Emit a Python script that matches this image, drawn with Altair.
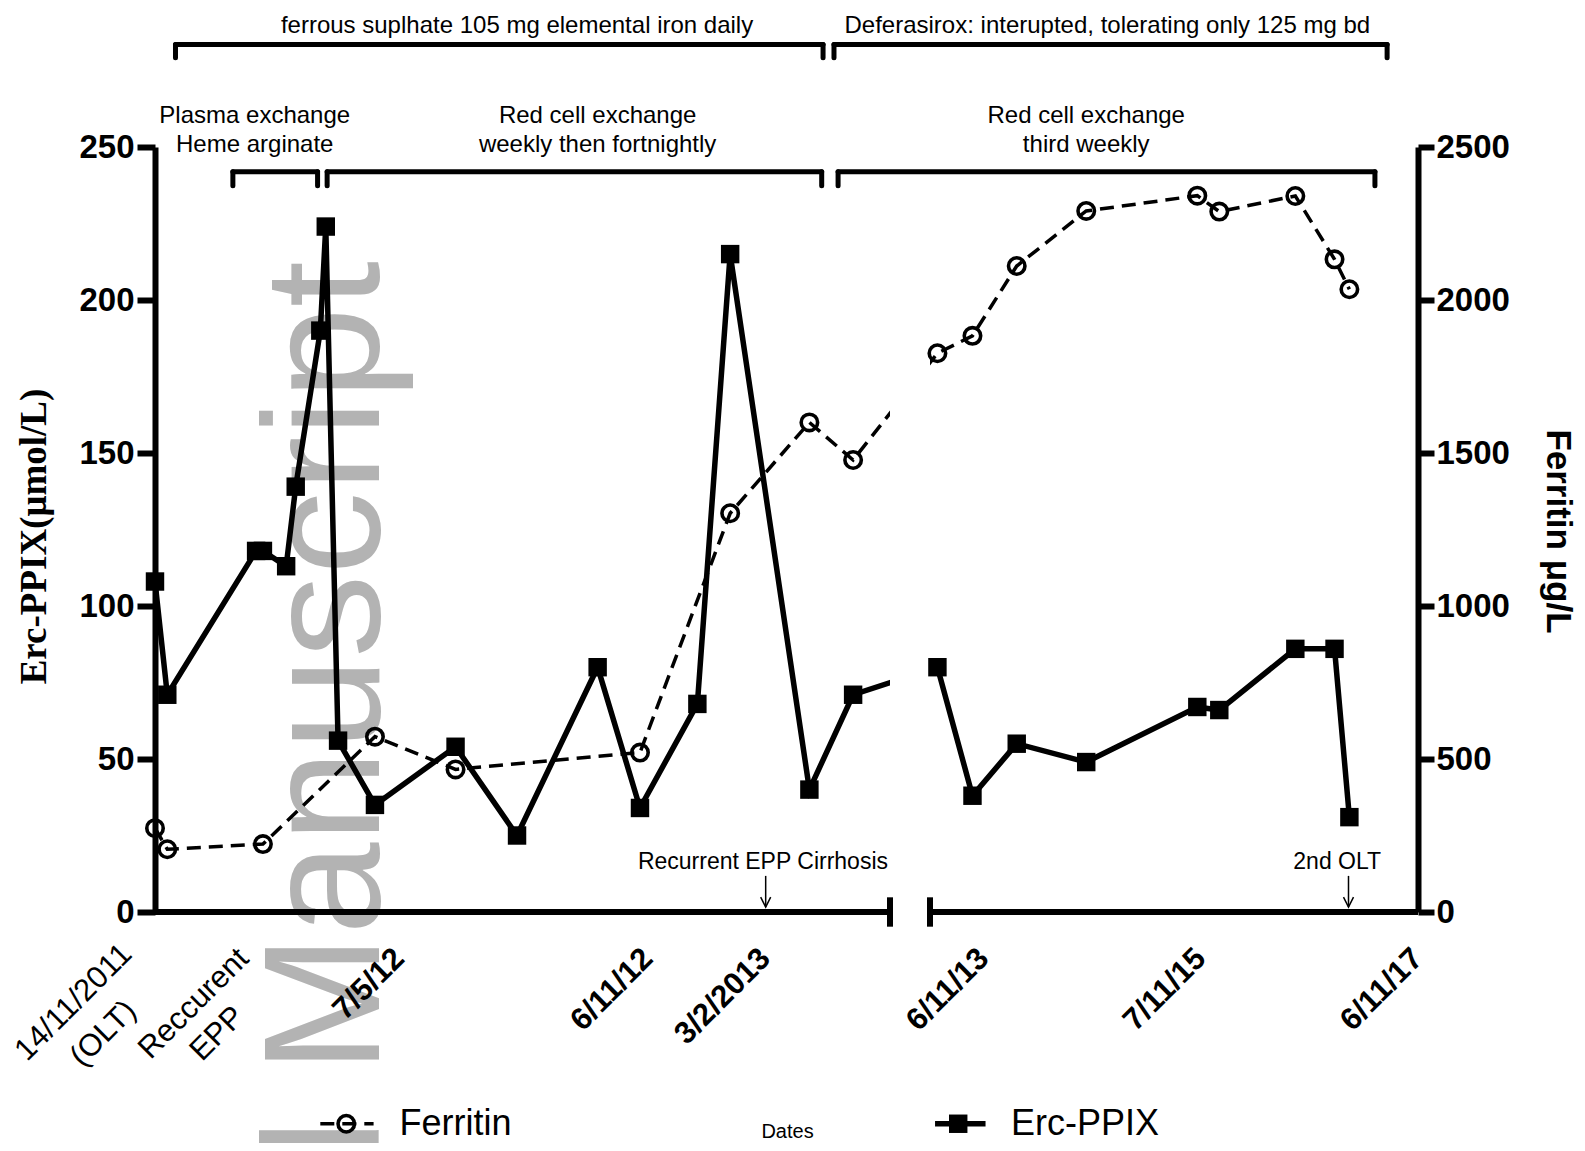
import altair as alt
import pandas as pd

# ===================== data =====================
# x values: days after the first liver transplant (OLT, 14/11/2011)
erc_day = [0, 9, 74, 79, 96, 103, 121, 125, 134, 161, 220, 265, 324, 355, 397, 421, 479, 511,
           566, 684, 833, 1067, 1441, 1515, 1771, 1903, 1953]
erc_val = [108, 71, 118, 118, 113, 139, 190, 224, 56, 35, 54, 25, 80, 34, 68, 215, 40, 71,
           80, 38, 55, 49, 67, 66, 86, 86, 31]
fer_day = [0, 9, 79, 161, 220, 355, 421, 479, 511, 566, 684, 833, 1067, 1441, 1515, 1771, 1903, 1953]
fer_val = [274, 205, 222, 573, 466, 521, 1303, 1600, 1477, 1826, 1883, 2111, 2291, 2341, 2289,
           2340, 2133, 2035]

tick_day = [0, 79, 179, 361, 447, 723, 1454, 2184]
date_tick_day = [179, 361, 447, 723, 1454, 2184]
date_tick_text = ["7/5/12", "6/11/12", "3/2/2013", "6/11/13", "7/11/15", "6/11/17"]
olt_tick_day, olt_tick_lines = 0, ["14/11/2011", "(OLT)"]
epp_tick_day, epp_tick_lines = 79, ["Reccurent", "EPP"]

erc_ticks = [0, 50, 100, 150, 200, 250]
fer_ticks = [0, 500, 1000, 1500, 2000, 2500]

# segmented time axis (days): first segment ends, second segment starts, last day
seg1_end, seg2_start, last_day = 538, 541, 2184

drug_start = [15, 497]
drug_end = [489, 2080]
drug_mid = [265, 1138]
drug_text = ["ferrous suplhate 105 mg elemental iron daily",
             "Deferasirox: interupted, tolerating only 125 mg bd"]
proc_start = [57, 126, 500]
proc_end = [119, 488, 2039]
proc_mid = [73, 324, 1067]
proc_line1 = ["Plasma exchange", "Red cell exchange", "Red cell exchange"]
proc_line2 = ["Heme arginate", "weekly then fortnightly", "third weekly"]

event_day = [447, 1950]
event_text_day = [445, 1912]
event_text = ["Recurrent EPP Cirrhosis", "2nd OLT"]

# ===================== layout =====================
SANS = "Liberation Sans, Arial, Helvetica, sans-serif"
SERIF = "Liberation Serif, Times New Roman, Times, serif"
W, H = 1263, 765

# levels in Erc-PPIX units (annotations above / below the plot)
DRUG_LINE, DRUG_FOOT, DRUG_TXT = 283.5, 279.2, 289.4
PROC_LINE, PROC_FOOT, PROC_T1, PROC_T2 = 241.9, 237.3, 260.0, 250.8
EV_TXT, ARROW_TOP, ARROW_TIP = 16.3, 11.8, 1.6
LEG_Y, DATES_Y = -69.2, -71.8

X_SCALE = alt.Scale(domain=[0, seg1_end, seg2_start, last_day], range=[0, 735, 775, W],
                    nice=False, zero=False)
ERC = alt.Scale(domain=[0, 250], nice=False)
FER = alt.Scale(domain=[0, 2500], nice=False)


def XD(field, axis=None):
    return alt.X(field, type="quantitative", scale=X_SCALE, axis=axis)


def YE(field):
    return alt.Y(field, type="quantitative", scale=ERC, axis=None)


def YF(field):
    return alt.Y(field, type="quantitative", scale=FER, axis=None)


erc_df = pd.DataFrame({"day": erc_day, "erc": erc_val})
fer_df = pd.DataFrame({"day": fer_day, "ferritin": fer_val})

x_axis = alt.Axis(values=tick_day, labels=False, domain=False, ticks=True, tickSize=20,
                  tickWidth=6, tickColor="black", grid=False, title=None)

erc_axis = alt.Axis(orient="left", values=erc_ticks, grid=False, domainColor="black",
                    domainWidth=6, tickColor="black", tickWidth=6, tickSize=18,
                    labelFont=SANS, labelFontSize=33, labelFontWeight="bold",
                    labelColor="black", labelPadding=3, labelFlush=False, format="d",
                    title="Erc-PPIX(\u03bcmol/L)", titleFont=SERIF, titleFontSize=37,
                    titleFontWeight="bold", titleColor="black", titleAngle=270,
                    titleX=-121, titleY=389, titleAlign="center", titleBaseline="middle")

fer_axis = alt.Axis(orient="right", values=fer_ticks, grid=False, domainColor="black",
                    domainWidth=6, tickColor="black", tickWidth=6, tickSize=16,
                    labelFont=SANS, labelFontSize=33, labelFontWeight="bold",
                    labelColor="black", labelPadding=2, labelFlush=False, format="d",
                    title="Ferritin \u03bcg/L", titleFont=SANS, titleFontSize=35,
                    titleFontWeight="bold", titleColor="black", titleAngle=90,
                    titleX=139, titleY=384, titleAlign="center", titleBaseline="middle")

# ---- watermark ----
watermark = alt.Chart(pd.DataFrame({"day": [164], "v": [212.7], "t": ["Accepted Manuscript"]})
                      ).mark_text(font=SANS, fontSize=166, color="#b3b3b3", angle=270,
                                  align="right", baseline="alphabetic"
                                  ).encode(x=XD("day"), y=YE("v"), text="t:N")

# ---- ferritin line ----
fer_line = alt.Chart(fer_df).mark_line(color="black", strokeWidth=3.5, strokeDash=[14, 8]
                                       ).encode(x=XD("day"),
                                                y=alt.Y("ferritin", type="quantitative",
                                                        scale=FER, axis=fer_axis))

# ---- erc line + gap mask ----
erc_line = alt.Chart(erc_df).mark_line(color="black", strokeWidth=5.5).encode(
    x=XD("day", x_axis), y=alt.Y("erc", type="quantitative", scale=ERC, axis=erc_axis))
gap = alt.Chart(pd.DataFrame({"a": [seg1_end], "b": [seg2_start], "lo": [1.5], "hi": [232]})
                ).mark_rect(color="white").encode(x=XD("a"), x2="b:Q", y=YE("lo"), y2="hi:Q")

# ---- points ----
fer_pts = alt.Chart(fer_df).mark_point(shape="circle", filled=False, size=270, strokeWidth=3.6,
                                       color="black", opacity=1
                                       ).encode(x=XD("day"), y=YF("ferritin"))
erc_pts = alt.Chart(erc_df).mark_point(shape="square", filled=True, size=340, color="black",
                                       opacity=1).encode(x=XD("day"), y=YE("erc"))

# ---- segmented x axis line ----
seg_df = pd.DataFrame({"a": [0, seg2_start], "b": [seg1_end, last_day], "y": [0, 0]})
axis_segs = alt.Chart(seg_df).mark_rule(color="black", strokeWidth=6).encode(
    x=XD("a"), x2="b:Q", y=YE("y"))
bar_df = pd.DataFrame({"d": [seg1_end, seg2_start], "lo": [-4.8, -4.8], "hi": [4.8, 4.8]})
axis_bars = alt.Chart(bar_df).mark_rule(color="black", strokeWidth=6).encode(
    x=XD("d"), y=YE("lo"), y2="hi:Q")

# ---- tick labels ----
date_lab = alt.Chart(pd.DataFrame({"day": date_tick_day, "t": date_tick_text})).mark_text(
    font=SANS, fontSize=31, fontWeight="bold", color="black", angle=315, align="right",
    baseline="middle", dx=-29.7, dy=29.7).encode(x=XD("day"), y=alt.value(H), text="t:N")


def tick_line(day, text, dx, dy):
    return alt.Chart(pd.DataFrame({"day": [day], "t": [text]})).mark_text(
        font=SANS, fontSize=31, color="black", angle=315, align="center",
        baseline="middle", dx=dx, dy=dy).encode(x=XD("day"), y=alt.value(H), text="t:N")


olt_1 = tick_line(olt_tick_day, olt_tick_lines[0], -121.5, 6.7)
olt_2 = tick_line(olt_tick_day, olt_tick_lines[1], -122.5, 49.9)
epp_1 = tick_line(epp_tick_day, epp_tick_lines[0], -113.8, 16.3)
epp_2 = tick_line(epp_tick_day, epp_tick_lines[1], -118.4, 54.1)

# ---- treatment brackets ----
br_df = pd.DataFrame({
    "a": drug_start + proc_start,
    "b": drug_end + proc_end,
    "line": [DRUG_LINE] * len(drug_start) + [PROC_LINE] * len(proc_start),
    "foot": [DRUG_FOOT] * len(drug_start) + [PROC_FOOT] * len(proc_start),
})
br_h = alt.Chart(br_df).mark_rule(color="black", strokeWidth=5, strokeCap="round").encode(
    x=XD("a"), x2="b:Q", y=YE("line"))
feet_df = pd.DataFrame({
    "d": list(br_df["a"]) + list(br_df["b"]),
    "line": list(br_df["line"]) * 2,
    "foot": list(br_df["foot"]) * 2,
})
br_v = alt.Chart(feet_df).mark_rule(color="black", strokeWidth=5, strokeCap="round").encode(
    x=XD("d"), y=YE("line"), y2="foot:Q")

txt_df = pd.DataFrame({
    "day": drug_mid + proc_mid + proc_mid,
    "v": [DRUG_TXT] * 2 + [PROC_T1] * 3 + [PROC_T2] * 3,
    "t": drug_text + proc_line1 + proc_line2,
})
br_txt = alt.Chart(txt_df).mark_text(font=SANS, fontSize=24, color="black", align="center",
                                     baseline="middle").encode(x=XD("day"), y=YE("v"), text="t:N")

# ---- event arrows ----
ev_txt = alt.Chart(pd.DataFrame({"day": event_text_day, "v": [EV_TXT] * 2, "t": event_text})
                   ).mark_text(font=SANS, fontSize=23, color="black", align="center",
                               baseline="middle").encode(x=XD("day"), y=YE("v"), text="t:N")
arr_df = pd.DataFrame({"day": event_day, "top": [ARROW_TOP] * 2, "tip": [ARROW_TIP] * 2})
arr_shaft = alt.Chart(arr_df).mark_rule(color="black", strokeWidth=1.5).encode(
    x=XD("day"), y=YE("top"), y2="tip:Q")
arr_head = alt.Chart(arr_df).mark_point(shape="M-1,-2L0,0L1,-2", size=100, filled=False,
                                        strokeWidth=1.5, color="black", opacity=1
                                        ).encode(x=XD("day"), y=YE("tip"))

# ---- legend ----
leg_fer_line = alt.Chart(pd.DataFrame({"a": [121], "b": [160], "y": [LEG_Y]})).mark_rule(
    color="black", strokeWidth=3.5, strokeDash=[14, 8]).encode(x=XD("a"), x2="b:Q", y=YE("y"))
leg_fer_pt = alt.Chart(pd.DataFrame({"d": [140], "y": [LEG_Y]})).mark_point(
    shape="circle", filled=False, size=270, strokeWidth=3.6, color="black", opacity=1
).encode(x=XD("d"), y=YE("y"))
leg_erc_line = alt.Chart(pd.DataFrame({"a": [558], "b": [728], "y": [LEG_Y]})).mark_rule(
    color="black", strokeWidth=5.5).encode(x=XD("a"), x2="b:Q", y=YE("y"))
leg_erc_pt = alt.Chart(pd.DataFrame({"d": [636], "y": [LEG_Y]})).mark_point(
    shape="square", filled=True, size=340, color="black", opacity=1
).encode(x=XD("d"), y=YE("y"))
leg_txt = alt.Chart(pd.DataFrame({"d": [179, 814], "y": [LEG_Y] * 2,
                                  "t": ["Ferritin", "Erc-PPIX"]})).mark_text(
    font=SANS, fontSize=36, color="black", align="left", baseline="middle"
).encode(x=XD("d"), y=YE("y"), text="t:N")
dates_txt = alt.Chart(pd.DataFrame({"d": [463], "y": [DATES_Y], "t": ["Dates"]})).mark_text(
    font=SANS, fontSize=20, color="black", align="center", baseline="middle"
).encode(x=XD("d"), y=YE("y"), text="t:N")

chart = alt.layer(
    watermark, fer_line, erc_line, gap, fer_pts, erc_pts, axis_segs, axis_bars,
    date_lab, olt_1, olt_2, epp_1, epp_2, br_h, br_v, br_txt, ev_txt, arr_shaft, arr_head,
    leg_fer_line, leg_fer_pt, leg_erc_line, leg_erc_pt, leg_txt, dates_txt
).resolve_scale(
    y="independent"
).properties(
    width=W, height=H,
    autosize=alt.AutoSizeParams(type="none"),
    padding={"left": 147, "top": 139, "right": 159, "bottom": 231},
).configure_view(strokeWidth=0)

chart.save("out.html", embed_options={"renderer": "svg", "actions": False})
